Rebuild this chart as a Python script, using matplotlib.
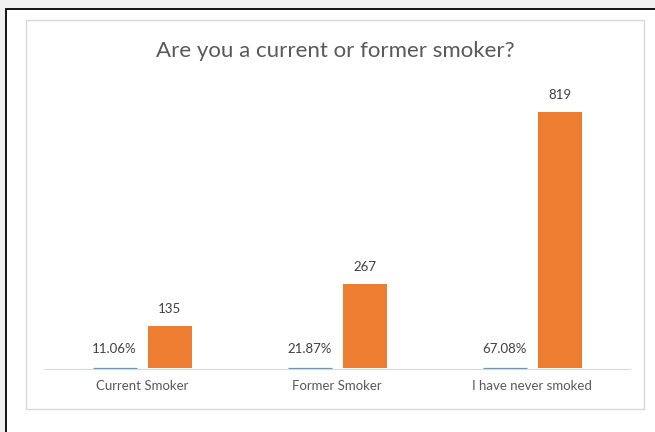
import numpy as np
import matplotlib as mpl
mpl.use('Agg')
import matplotlib.pyplot as plt
import matplotlib.patches as patches

categories = ['Current Smoker', 'Former Smoker', 'I have never smoked']
pct = [0.1106, 0.2187, 0.6708]
pct_labels = ['11.06%', '21.87%', '67.08%']
counts = [135, 267, 819]

plt.rcParams['font.family'] = ['Lato', 'DejaVu Sans']

W, H = 655, 432
fig = plt.figure(figsize=(W/100, H/100), dpi=100)
fig.patch.set_facecolor('#f0f0f0')

# outer frame (black), runs past right/bottom edges
fig.patches.append(patches.Rectangle((6/W, -0.05), 1.1, 1 - 9/H + 0.05, transform=fig.transFigure,
                                     facecolor='white', edgecolor='black', linewidth=1.3, zorder=0))
# chart area border
fig.patches.append(patches.Rectangle((26/W, 1 - 409/H), (644-26)/W, (409-20)/H, transform=fig.transFigure,
                                     facecolor='white', edgecolor='#d9d9d9', linewidth=1.0, zorder=1))

ax = fig.add_axes([44.5/W, 63/H, (630-44.5)/W, 282/H])
ax.set_zorder(3)
ax.set_facecolor('none')
x = np.arange(len(categories))
bw = 0.225
off = 0.141
ax.bar(x - off, pct, bw, color='#5b9bd5', edgecolor='#5b9bd5', linewidth=0.9, zorder=3)
ax.bar(x + off, counts, bw, color='#ed7d31', zorder=2)

for i in range(len(categories)):
    ax.annotate(pct_labels[i], (x[i] - off, pct[i]), xytext=(0, 9), textcoords='offset points',
                ha='center', va='bottom', fontsize=9.5, color='#404040')
    ax.annotate(str(counts[i]), (x[i] + off, counts[i]), xytext=(0, 8), textcoords='offset points',
                ha='center', va='bottom', fontsize=9.5, color='#404040')

ax.set_xlim(-0.5, 2.5)
ax.set_ylim(-4, 900)
ax.set_xticks(x)
ax.set_xticklabels(categories, fontsize=9.5, color='#595959')
ax.tick_params(axis='x', length=0, pad=8)
ax.set_yticks([])
for s in ['top', 'right', 'left']:
    ax.spines[s].set_visible(False)
ax.spines['bottom'].set_color('#d9d9d9')

t = fig.text(335/W, 1 - 51/H, 'Are you a current or former smoker?', ha='center', va='center',
             fontsize=16, color='#595959')
t.set_zorder(3)

fig.savefig('out.png', dpi=100, facecolor=fig.get_facecolor())
